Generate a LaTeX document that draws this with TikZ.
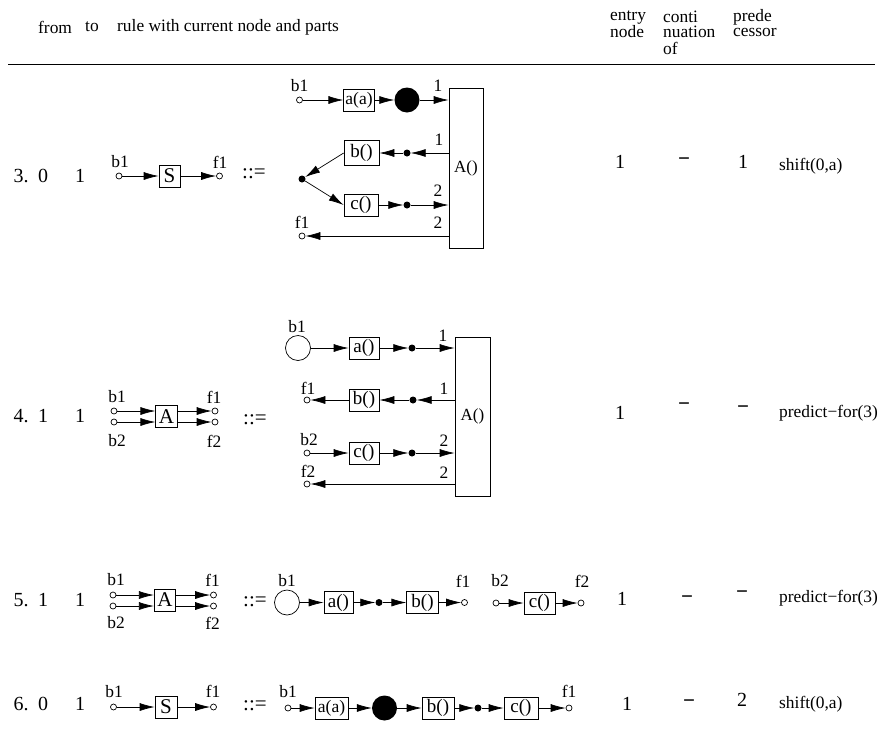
\documentclass[tikz,border=0pt]{standalone}
\usepackage{fontspec}
\setmainfont{Liberation Serif}
\usetikzlibrary{arrows.meta}

\tikzset{
  txt/.style={inner sep=0pt, font=\fontsize{17.4}{17.4}\selectfont},
  big/.style={inner sep=0pt, font=\fontsize{20}{20}\selectfont},
  nil/.style={inner sep=0pt, font=\fontsize{21}{21}\selectfont\bfseries},
  defsign/.style={inner sep=0pt, font=\fontsize{21}{21}\selectfont},
  rulebox/.style={draw, line width=0.7pt, inner sep=0pt, minimum height=22pt, font=\fontsize{19}{19}\selectfont},
  smalltext/.style={font=\fontsize{17.5}{17.5}\selectfont},
  capital/.style={font=\fontsize{21}{21}\selectfont},
  hub/.style={draw, line width=0.7pt, inner sep=0pt, font=\fontsize{17}{17}\selectfont},
  port/.style={draw, line width=0.7pt, circle, inner sep=0pt, minimum size=6pt},
  joint/.style={fill, circle, inner sep=0pt, minimum size=7pt},
  emptystate/.style={draw, line width=0.7pt, circle, inner sep=0pt, minimum size=25pt},
  fullstate/.style={fill, circle, inner sep=0pt, minimum size=25pt},
  flow/.style={line width=0.7pt, -{Latex[length=15pt,width=8pt]}}
}

\begin{document}
\begin{tikzpicture} [x=1pt,y=-1pt]

\useasboundingbox (0,0) rectangle (879,753);

% header
\draw	(38,27) node[txt,anchor=west] (hfrom) {from}
		(85,27) node[txt,anchor=west] (hto) {to}
		(117,27) node[txt,anchor=west] (hrule) {rule with current node and parts}
		(610,17) node[txt,anchor=west] (hentrya) {entry}
		(610,32) node[txt,anchor=west] (hentryb) {node}
		(663,17) node[txt,anchor=west] (hcontia) {conti}
		(663,32) node[txt,anchor=west] (hcontib) {nuation}
		(663,48) node[txt,anchor=west] (hcontic) {of}
		(733,17) node[txt,anchor=west] (hpredea) {prede}
		(733,32) node[txt,anchor=west] (hpredeb) {cessor};
\draw [line width=0.8pt] (8,64) -- (875,64);

% row 3
\draw	(21,176) node[big] (r3no) {3.}
		(43,176) node[big] (r3from) {0}
		(80,176) node[big] (r3to) {1}
		(620,162) node[big] (r3entry) {1}
		(684,162) node[nil] (r3cont) {−}
		(743,162) node[big] (r3pred) {1}
		(779,166) node[txt,anchor=west] (r3act) {shift(0,a)};

\node[port] (r3b) at (119,176) {};
\node[rulebox,capital,minimum width=21pt] (r3S) at (169.5,176) {S};
\node[port] (r3f) at (219.5,176) {};
\draw	(120,162) node[txt] (r3bl) {b1}
		(220,162) node[txt] (r3fl) {f1}
		(254,174) node[defsign] (r3def) {::=};
\draw [flow] (r3b) -- (r3S);
\draw [flow] (r3S) -- (r3f);

\node[hub,minimum width=34pt,minimum height=160pt] (r3A) at (466,168) {\raisebox{-4pt}{A()}};
\node[port] (r3p1) at (299.5,100) {};
\node[rulebox,smalltext,minimum width=30.5pt] (r3a) at (359,100) {a(a)};
\node[fullstate] (r3s) at (407,100) {};
\node[rulebox,minimum width=35pt,minimum height=25pt] (r3bb) at (361.5,153) {b()};
\node[joint] (r3d1) at (407,153) {};
\node[joint] (r3d0) at (302,179) {};
\node[rulebox,minimum width=34pt] (r3c) at (361,205) {c()};
\node[joint] (r3d2) at (407,205) {};
\node[port] (r3p2) at (302,236) {};
\draw	(299.5,86) node[txt] (r3p1l) {b1}
		(302,222) node[txt] (r3p2l) {f1}
		(438,86) node[txt] (r3n1) {1}
		(439,140) node[txt] (r3n2) {1}
		(438,191) node[txt] (r3n3) {2}
		(438,223) node[txt] (r3n4) {2};
\draw [flow] (r3p1) -- (r3a);
\draw [flow] (r3a) -- (r3s);
\draw [flow] (r3s) -- (r3s -| r3A.west);
\draw [flow] (r3d1 -| r3A.west) -- (r3d1);
\draw [flow] (r3d1) -- (r3bb);
\draw [flow] (r3bb.west) -- (r3d0);
\draw [flow] (r3d0) -- (r3c.west);
\draw [flow] (r3c) -- (r3d2);
\draw [flow] (r3d2) -- (r3d2 -| r3A.west);
\draw [flow] (r3p2 -| r3A.west) -- (r3p2);

% row 4
\draw	(21,416) node[big] (r4no) {4.}
		(43,416) node[big] (r4from) {1}
		(80,416) node[big] (r4to) {1}
		(620,413) node[big] (r4entry) {1}
		(684,407) node[nil] (r4cont) {−}
		(743,410) node[nil] (r4pred) {−}
		(779,413) node[txt,anchor=west] (r4act) {predict−for(3)};

\node[port] (r4b1) at (114,411) {};
\node[port] (r4b2) at (114,422) {};
\node[rulebox,capital,minimum width=21.5pt] (r4S) at (166.5,416.5) {A};
\node[port] (r4f1) at (215,411) {};
\node[port] (r4f2) at (215,422) {};
\draw	(117,397) node[txt] (r4b1l) {b1}
		(214,397) node[txt] (r4f1l) {f1}
		(117,441) node[txt] (r4b2l) {b2}
		(214,441) node[txt] (r4f2l) {f2}
		(255,420) node[defsign] (r4def) {::=};
\draw [flow] (r4b1) -- (r4b1 -| r4S.west);
\draw [flow] (r4b2) -- (r4b2 -| r4S.west);
\draw [flow] (r4f1 -| r4S.east) -- (r4f1);
\draw [flow] (r4f2 -| r4S.east) -- (r4f2);

\node[hub,minimum width=35pt,minimum height=159pt] (r4A) at (472.5,416.5) {\raisebox{-2pt}{A()}};
\node[emptystate] (r4s) at (298,348) {};
\node[rulebox,minimum width=30pt] (r4a) at (364,348) {a()};
\node[joint] (r4d1) at (412,348) {};
\node[port] (r4p1) at (307,400) {};
\node[rulebox,minimum width=30pt] (r4bb) at (364,400) {b()};
\node[joint] (r4d2) at (413,400) {};
\node[port] (r4p2) at (307,453) {};
\node[rulebox,minimum width=30pt] (r4c) at (364,453) {c()};
\node[joint] (r4d3) at (412,453) {};
\node[port] (r4p3) at (307,484) {};
\draw	(297,327) node[txt] (r4sl) {b1}
		(308,388) node[txt] (r4p1l) {f1}
		(309,440) node[txt] (r4p2l) {b2}
		(308,471) node[txt] (r4p3l) {f2}
		(443,336) node[txt] (r4n1) {1}
		(444,389) node[txt] (r4n2) {1}
		(444,441) node[txt] (r4n3) {2}
		(444,473) node[txt] (r4n4) {2};
\draw [flow] (r4s) -- (r4a);
\draw [flow] (r4a) -- (r4d1);
\draw [flow] (r4d1) -- (r4d1 -| r4A.west);
\draw [flow] (r4d2 -| r4A.west) -- (r4d2);
\draw [flow] (r4d2) -- (r4bb);
\draw [flow] (r4bb) -- (r4p1);
\draw [flow] (r4p2) -- (r4c);
\draw [flow] (r4c) -- (r4d3);
\draw [flow] (r4d3) -- (r4d3 -| r4A.west);
\draw [flow] (r4p3 -| r4A.west) -- (r4p3);

% row 5
\draw	(21,600) node[big] (r5no) {5.}
		(43,600) node[big] (r5from) {1}
		(80,600) node[big] (r5to) {1}
		(622,599) node[big] (r5entry) {1}
		(687,600) node[nil] (r5cont) {−}
		(742,595) node[nil] (r5pred) {−}
		(779,598) node[txt,anchor=west] (r5act) {predict−for(3)};

\node[port] (r5b1) at (113,595) {};
\node[port] (r5b2) at (113,606) {};
\node[rulebox,capital,minimum width=21.5pt] (r5S) at (165,600) {A};
\node[port] (r5f1) at (213.5,595) {};
\node[port] (r5f2) at (213.5,606) {};
\draw	(116,580) node[txt] (r5b1l) {b1}
		(212.5,580) node[txt] (r5f1l) {f1}
		(116,623) node[txt] (r5b2l) {b2}
		(212.5,623) node[txt] (r5f2l) {f2}
		(255,602) node[defsign] (r5def) {::=};
\draw [flow] (r5b1) -- (r5b1 -| r5S.west);
\draw [flow] (r5b2) -- (r5b2 -| r5S.west);
\draw [flow] (r5f1 -| r5S.east) -- (r5f1);
\draw [flow] (r5f2 -| r5S.east) -- (r5f2);

\node[emptystate] (r5s) at (287,602.5) {};
\node[rulebox,minimum width=29pt] (r5a) at (338.5,602.5) {a()};
\node[joint] (r5d) at (379,602.5) {};
\node[rulebox,minimum width=31.5pt] (r5bb) at (422.5,602.5) {b()};
\node[port] (r5p1) at (464.5,602.5) {};
\node[port] (r5p2) at (496,603) {};
\node[rulebox,minimum width=31pt] (r5c) at (539.5,603) {c()};
\node[port] (r5p3) at (581,603) {};
\draw	(287,581) node[txt] (r5sl) {b1}
		(463,581) node[txt] (r5p1l) {f1}
		(500,581) node[txt] (r5p2l) {b2}
		(582,581) node[txt] (r5p3l) {f2};
\draw [flow] (r5s) -- (r5a);
\draw [flow] (r5a) -- (r5d);
\draw [flow] (r5d) -- (r5bb);
\draw [flow] (r5bb) -- (r5p1);
\draw [flow] (r5p2) -- (r5c);
\draw [flow] (r5c) -- (r5p3);

% row 6
\draw	(21,704) node[big] (r6no) {6.}
		(43,704) node[big] (r6from) {0}
		(80,704) node[big] (r6to) {1}
		(627,704) node[big] (r6entry) {1}
		(689,704) node[nil] (r6cont) {−}
		(742,700) node[big] (r6pred) {2}
		(779,704) node[txt,anchor=west] (r6act) {shift(0,a)};

\node[port] (r6b) at (113.5,707) {};
\node[rulebox,capital,minimum width=22pt] (r6S) at (166,707) {S};
\node[port] (r6f) at (213.5,707) {};
\draw	(114,691.5) node[txt] (r6bl) {b1}
		(213,691.5) node[txt] (r6fl) {f1}
		(255,706) node[defsign] (r6def) {::=};
\draw [flow] (r6b) -- (r6S);
\draw [flow] (r6S) -- (r6f);

\node[port] (r6p1) at (288,708) {};
\node[rulebox,smalltext,minimum width=33pt] (r6a) at (331.5,708) {a(a)};
\node[fullstate] (r6s) at (384.5,708) {};
\node[rulebox,minimum width=32pt] (r6bb) at (438,708) {b()};
\node[joint] (r6d) at (478,708) {};
\node[rulebox,minimum width=34pt] (r6c) at (521,708) {c()};
\node[port] (r6p2) at (569,708) {};
\draw	(288,692) node[txt] (r6p1l) {b1}
		(569,691) node[txt] (r6p2l) {f1};
\draw [flow] (r6p1) -- (r6a);
\draw [flow] (r6a) -- (r6s);
\draw [flow] (r6s) -- (r6bb);
\draw [flow] (r6bb) -- (r6d);
\draw [flow] (r6d) -- (r6c);
\draw [flow] (r6c) -- (r6p2);

\end{tikzpicture}
\end{document}
